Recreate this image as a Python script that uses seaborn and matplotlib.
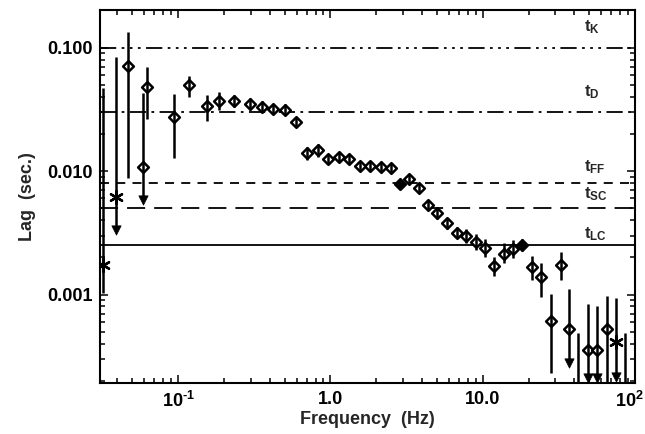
import numpy as np
import pandas as pd
import seaborn as sns
import matplotlib
matplotlib.use("Agg")
import matplotlib.pyplot as plt
import matplotlib.transforms as mtransforms

# ---------------- data ----------------
freq = [0.0320, 0.0392, 0.0468, 0.0591, 0.0623, 0.0942, 0.1186, 0.1549, 0.1867, 0.2333,
        0.2972, 0.3577, 0.4188, 0.5043, 0.5954, 0.700, 0.8266, 0.970, 1.141, 1.333,
        1.567, 1.823, 2.143, 2.503, 2.869, 3.303, 3.839, 4.401, 5.041, 5.811,
        6.761, 7.780, 8.982, 10.32, 11.88, 13.76, 15.77, 18.06, 21.01, 24.17,
        28.01, 32.57, 37.10, 42.5, 49.2, 56.6, 65.1, 75.2, 86.1]
lag = [0.00174, 0.00614, 0.0713, 0.01086, 0.0478, 0.0273, 0.0498, 0.0336, 0.0372, 0.0370,
       0.0349, 0.0332, 0.0319, 0.0315, 0.0248, 0.0141, 0.0148, 0.01253, 0.01308, 0.01253,
       0.0110, 0.0110, 0.01074, 0.01054, 0.00787, 0.00859, 0.00726, 0.00531, 0.00455, 0.00378,
       0.00317, 0.00298, 0.00268, 0.00237, 0.00171, 0.00212, 0.00233, 0.00252, 0.00168, 0.00138,
       0.000615, 0.00174, 0.000524, 0.00012, 0.000357, 0.000357, 0.000524, 0.000416, 0.00012]
lag_lo = [0.00103, 0.00334, 0.0088, 0.00583, 0.0264, 0.0127, 0.0400, 0.0256, 0.0313, 0.0328,
          0.0312, 0.0300, 0.0290, 0.0287, 0.0226, 0.0123, 0.0130, 0.0114, 0.0119, 0.0114,
          0.0100, 0.0100, 0.0098, 0.0096, 0.0072, 0.0078, 0.0066, 0.0048, 0.0041, 0.0034,
          0.0029, 0.0026, 0.0023, 0.0020, 0.00140, 0.00180, 0.00198, 0.00225, 0.00131, 0.000962,
          0.000231, 0.00131, 0.000278, 0.0001, 0.000210, 0.000210, 0.0001, 0.000216, 0.0001]
lag_hi = [0.0471, 0.0839, 0.133, 0.0427, 0.0693, 0.0421, 0.0589, 0.0413, 0.0440, 0.0415,
          0.0390, 0.0368, 0.0351, 0.0346, 0.0272, 0.0158, 0.0165, 0.0138, 0.0144, 0.0138,
          0.0121, 0.0121, 0.0118, 0.0116, 0.0086, 0.0095, 0.0080, 0.0058, 0.0050, 0.0042,
          0.0035, 0.0034, 0.0031, 0.0028, 0.00203, 0.00262, 0.00276, 0.00280, 0.00205, 0.00179,
          0.001006, 0.00223, 0.001104, 0.000486, 0.000839, 0.000809, 0.000975, 0.000933, 0.000486]
kind = ["star", "star", "diamond", "diamond", "diamond", "diamond", "diamond", "diamond", "diamond", "diamond",
        "diamond", "diamond", "diamond", "diamond", "diamond", "diamond", "diamond", "diamond", "diamond", "diamond",
        "diamond", "diamond", "diamond", "diamond", "filled", "diamond", "diamond", "diamond", "diamond", "diamond",
        "diamond", "diamond", "diamond", "diamond", "diamond", "diamond", "diamond", "filled", "diamond", "diamond",
        "diamond", "diamond", "diamond", "none", "diamond", "diamond", "diamond", "star", "none"]
arrow = [False, True, False, True, False, False, False, False, False, False,
         False, False, False, False, False, False, False, False, False, False,
         False, False, False, False, False, False, False, False, False, False,
         False, False, False, False, False, False, False, False, False, False,
         False, False, True, False, True, True, False, True, False]

timescales = [0.100, 0.030, 0.008, 0.005, 0.0025]
timescale_labels = ["t$_\\mathregular{K}$", "t$_\\mathregular{D}$", "t$_\\mathregular{FF}$",
                    "t$_\\mathregular{SC}$", "t$_\\mathregular{LC}$"]
xtick_vals = [0.1, 1.0, 10.0, 100.0]
xtick_labels = ["10$^\\mathregular{\u20101}$", "1.0", "10.0", "10$^\\mathregular{2}$"]
ytick_vals = [0.001, 0.010, 0.100]
ytick_labels = ["0.001", "0.010", "0.100"]

df = pd.DataFrame(dict(freq=freq, lag=lag, lag_lo=lag_lo, lag_hi=lag_hi, kind=kind, arrow=arrow))

# ---------------- style ----------------
sns.set_theme(style="ticks")
plt.rcParams["font.family"] = ["Liberation Sans", "DejaVu Sans"]
plt.rcParams["font.weight"] = "bold"
plt.rcParams["mathtext.default"] = "regular"

fig = plt.figure(figsize=(6.45, 4.34), dpi=100)
ax = fig.add_axes([99.5 / 645, 1 - 383 / 434, (635 - 99.5) / 645, (383 - 10) / 434])
ax.set_xscale("log")
ax.set_yscale("log")

line_styles = [(0, (9, 3, 1.5, 3, 1.5, 3, 1.5, 3)), (0, (9, 3, 1.5, 3)), (0, (5, 4)), (0, (10, 5)), "-"]
label_offsets = [8, 8, 5, 4, 2]
for v, ls, lab, off in zip(timescales, line_styles, timescale_labels, label_offsets):
    ax.axhline(v, color="black", lw=1.3, ls=ls, zorder=1)
    ax.annotate(lab, xy=(0.905, v), xycoords=("axes fraction", "data"),
                xytext=(0, off), textcoords="offset points",
                ha="left", va="bottom", fontsize=12, fontweight="bold")

# error bars
ax.vlines(df["freq"], df["lag_lo"], df["lag_hi"], color="black", lw=1.8, zorder=4)

# markers
sns.scatterplot(data=df[df["kind"] == "diamond"], x="freq", y="lag", marker="D", s=30,
                facecolor="white", edgecolor="black", linewidth=1.8, zorder=3, ax=ax, legend=False)
sns.scatterplot(data=df[df["kind"] == "filled"], x="freq", y="lag", marker="D", s=30,
                color="black", edgecolor="black", linewidth=1.8, zorder=3, ax=ax, legend=False)
sns.scatterplot(data=df[df["kind"] == "star"], x="freq", y="lag", marker=(6, 2, 0), s=85,
                color="black", linewidth=1.7, zorder=5, ax=ax, legend=False)
sns.scatterplot(data=df[df["arrow"]], x="freq", y="lag_lo", marker="v", s=45,
                color="black", edgecolor="black", linewidth=0.5, zorder=5, ax=ax, legend=False)

ax.set_xlim(0.0305, 100)
ax.set_ylim(0.000192, 0.2016)

ax.set_xticks(xtick_vals)
ax.set_xticklabels(xtick_labels)
ax.set_yticks(ytick_vals)
ax.set_yticklabels(ytick_labels)
ax.tick_params(which="both", direction="in", top=True, right=True, colors="black", width=1.1)
ax.tick_params(which="major", length=6)
ax.tick_params(which="minor", length=3.5)
ax.tick_params(axis="y", which="major", pad=5, labelsize=13)
ax.tick_params(axis="x", which="major", pad=6, labelsize=13)
for lab in ax.get_xticklabels() + ax.get_yticklabels():
    lab.set_fontweight("bold")
last = ax.get_xticklabels()[-1]
last.set_transform(last.get_transform() + mtransforms.ScaledTranslation(-6 / 100, 0, fig.dpi_scale_trans))
for sp in ax.spines.values():
    sp.set_linewidth(1.5)
    sp.set_color("black")

ax.set_xlabel("Frequency  (Hz)", fontsize=13, fontweight="bold", labelpad=0)
ax.set_ylabel("Lag  (sec.)", fontsize=13, fontweight="bold", labelpad=8)

fig.savefig("out.png", dpi=100)
